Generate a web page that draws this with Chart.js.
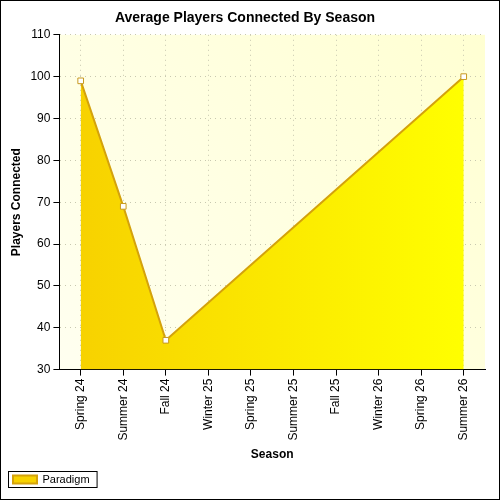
<!DOCTYPE html>
<html>
<head>
<meta charset="utf-8">
<script src="https://cdn.jsdelivr.net/npm/chart.js@4"></script>
<style>
  html, body { margin: 0; padding: 0; background: #fff; }
  #wrap { width: 498px; height: 498px; border: 1px solid #000; }
</style>
</head>
<body>
<div id="wrap"><canvas id="c" width="498" height="498"></canvas></div>
<script>
// === データ ===
const seasons = ['Spring 24', 'Summer 24', 'Fall 24', 'Winter 25', 'Spring 25',
                 'Summer 25', 'Fall 25', 'Winter 26', 'Spring 26', 'Summer 26'];
const paradigm = [99, 69, 37, null, null, null, null, null, null, 100];

const FONT = "Arial, 'Liberation Sans', sans-serif";

// プロット背景 + 凡例枠
const bgPlugin = {
    id: 'plotBg',
    beforeDraw(chart) {
        const { ctx, chartArea: a } = chart;
        const g = ctx.createLinearGradient(a.left, a.bottom, a.right, a.top);
        g.addColorStop(0, '#fffff0');
        g.addColorStop(1, '#ffffd2');
        ctx.save();
        ctx.fillStyle = g;
        ctx.fillRect(a.left, a.top, a.right - a.left, a.bottom - a.top);
        ctx.restore();
    },
    afterDraw(chart) {
        const boxes = chart.legend.legendHitBoxes;
        if (!boxes || !boxes.length) return;
        const b = boxes[0];
        const { ctx } = chart;
        ctx.save();
        ctx.strokeStyle = '#000';
        ctx.lineWidth = 1;
        ctx.strokeRect(Math.round(b.left) - 4.5, Math.round(b.top) - 2.5, b.width + 12, b.height + 5);
        ctx.restore();
    }
};

const ctx = document.getElementById('c').getContext('2d');
const fillGrad = ctx.createLinearGradient(80, 0, 465, 0);
fillGrad.addColorStop(0, '#f7d200');
fillGrad.addColorStop(1, '#ffff00');

new Chart(ctx, {
    type: 'line',
    data: {
        labels: seasons,
        datasets: [{
            label: 'Paradigm',
            data: paradigm,
            spanGaps: true,
            borderColor: '#d4a20c',
            backgroundColor: fillGrad,
            borderWidth: 2,
            fill: 'start',
            tension: 0,
            pointStyle: 'rect',
            pointRadius: 4,
            pointBackgroundColor: '#fff',
            pointBorderColor: '#c89a20',
            pointBorderWidth: 1,
        }],
    },
    options: {
        responsive: false,
        animation: false,
        layout: { padding: { left: 4, right: 14, top: 0, bottom: 4 } },
        plugins: {
            title: {
                display: true, text: 'Average Players Connected By Season',
                color: '#000', font: { family: FONT, size: 14, weight: 'bold' },
                padding: { top: 9, bottom: 8 },
            },
            legend: {
                position: 'bottom', align: 'start',
                labels: {
                    color: '#000', font: { family: FONT, size: 11 },
                    boxWidth: 24, boxHeight: 8,
                    padding: 8,
                },
            },
            tooltip: { enabled: false },
        },
        scales: {
            x: {
                offset: true,
                title: { display: true, text: 'Season', color: '#000',
                         font: { family: FONT, size: 12, weight: 'bold' }, padding: { top: 4 } },
                grid: { color: '#c8c8b0', tickColor: '#000', tickLength: 6 },
                border: { color: '#000', width: 1, dash: [1, 4] },
                ticks: { color: '#000', font: { family: FONT, size: 12 }, maxRotation: 90, minRotation: 90, autoSkip: false },
            },
            y: {
                min: 30, max: 110,
                title: { display: true, text: 'Players Connected', color: '#000',
                         font: { family: FONT, size: 12, weight: 'bold' } },
                grid: { color: '#c8c8b0', tickColor: '#000', tickLength: 6 },
                border: { color: '#000', width: 1, dash: [1, 4] },
                ticks: { stepSize: 10, color: '#000', font: { family: FONT, size: 12 } },
            },
        },
    },
    plugins: [bgPlugin],
});
</script>
</body>
</html>
